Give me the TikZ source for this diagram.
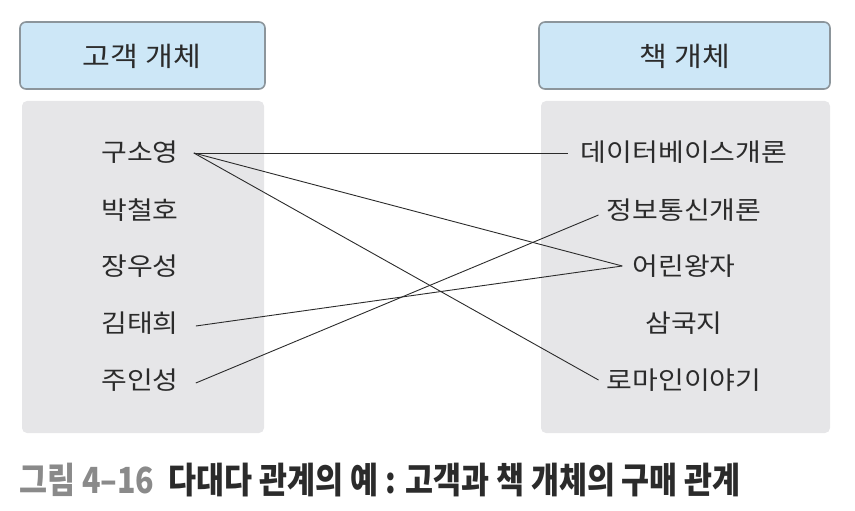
\documentclass[tikz,border=0pt]{standalone}
\usepackage{fontspec}
\setmainfont[FakeStretch=1.12]{Noto Sans CJK KR}
\newfontfamily\capfont[FakeStretch=0.845]{Noto Sans CJK KR}
\definecolor{hdrfill}{HTML}{CDE7F7}
\definecolor{hdrdraw}{HTML}{8C959B}
\definecolor{panel}{HTML}{E6E6E8}
\definecolor{txt}{HTML}{2B2B2B}
\definecolor{capgray}{HTML}{8A8A8A}
\tikzset{
  hdrbox/.style={draw=hdrdraw, line width=1.6pt, fill=hdrfill, rounded corners=6pt},
  pnl/.style={fill=panel, rounded corners=5pt},
  itemtext/.style={inner sep=0pt, text=txt, font=\fontsize{25}{28}\selectfont},
  hdrtext/.style={inner sep=0pt, text=txt, font=\fontsize{27}{30}\selectfont},
  link/.style={draw=txt, line width=0.9pt}
}
\begin{document}
\begin{tikzpicture}[x=1pt,y=-1pt]
\useasboundingbox (0,0) rectangle (855,511);
% headers
\draw[hdrbox] (20,22) rectangle (265,89);
\draw[hdrbox] (539,22) rectangle (830,89);
\node[hdrtext] (h1) at (142,56) {고객 개체};
\node[hdrtext] (h2) at (685,56) {책 개체};
% panels
\fill[pnl] (22,101) rectangle (264,433);
\fill[pnl] (541,101) rectangle (830,433);
% left names
\node[itemtext] (c1) at (140,152) {구소영};
\node[itemtext] (c2) at (140,210) {박철호};
\node[itemtext] (c3) at (140,266) {장우성};
\node[itemtext] (c4) at (140,323) {김태희};
\node[itemtext] (c5) at (140,380) {주인성};
% right names
\node[itemtext] (b1) at (684,152) {데이터베이스개론};
\node[itemtext] (b2) at (684,210) {정보통신개론};
\node[itemtext] (b3) at (684,266) {어린왕자};
\node[itemtext] (b4) at (684,323) {삼국지};
\node[itemtext] (b5) at (684,380) {로마인이야기};
% links
\draw[link] ([xshift=15pt,yshift=-1pt]c1.east) -- ([xshift=-13pt,yshift=-1pt]b1.west);
\draw[link] ([xshift=15pt,yshift=-1pt]c1.east) -- ([xshift=-10pt]b3.west);
\draw[link] ([xshift=15pt,yshift=-1pt]c1.east) -- ([xshift=-8pt]b5.west);
\draw[link] ([xshift=17pt,yshift=-3pt]c4.east) -- ([xshift=-10pt]b3.west);
\draw[link] ([xshift=17pt,yshift=-3pt]c5.east) -- ([xshift=-8pt,yshift=-5pt]b2.west);
% caption
\node[anchor=west, inner sep=0pt, font=\capfont\bfseries\fontsize{36}{40}\selectfont] (cap) at (19,480)
  {\textcolor{capgray}{그림 4–16}\hspace{14pt}\textcolor{txt}{다대다 관계의 예 : 고객과 책 개체의 구매 관계}};
\end{tikzpicture}
\end{document}
